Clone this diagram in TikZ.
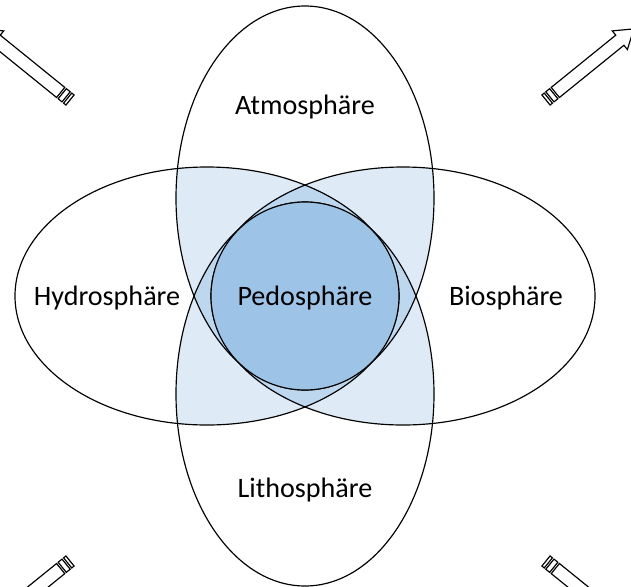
\documentclass[tikz,border=0pt]{standalone}
\usepackage{fontspec}
\setmainfont{Carlito}
\definecolor{hellblau}{HTML}{DEEBF7}
\definecolor{mittelblau}{HTML}{BDD7EE}
\definecolor{dunkelblau}{HTML}{9DC3E6}
\tikzset{
  hochoval/.style={x radius=129, y radius=192},
  queroval/.style={x radius=192, y radius=129},
  umriss/.style={draw=black, line width=1pt},
  pfeil/.style={draw=black, line width=1pt, line join=miter},
  beschriftung/.style={font=\fontsize{24pt}{28pt}\selectfont}
}

\begin{document}
\begin{tikzpicture}[x=0.3mm, y=0.3mm]
  \clip (-305,-290) rectangle (326,296);

  % Schnitt von je zwei Ellipsen
  \begin{scope}
    \clip (0,98) ellipse [hochoval];
    \fill [hellblau] (-98,0) ellipse [queroval];
    \fill [hellblau] (98,0) ellipse [queroval];
    \fill [hellblau] (0,-98) ellipse [hochoval];
  \end{scope}
  \begin{scope}
    \clip (0,-98) ellipse [hochoval];
    \fill [hellblau] (-98,0) ellipse [queroval];
    \fill [hellblau] (98,0) ellipse [queroval];
  \end{scope}
  \begin{scope}
    \clip (-98,0) ellipse [queroval];
    \fill [hellblau] (98,0) ellipse [queroval];
  \end{scope}

  % Schnitt von je drei Ellipsen
  \begin{scope}
    \clip (0,98) ellipse [hochoval];
    \clip (0,-98) ellipse [hochoval];
    \fill [mittelblau] (-98,0) ellipse [queroval];
    \fill [mittelblau] (98,0) ellipse [queroval];
  \end{scope}
  \begin{scope}
    \clip (-98,0) ellipse [queroval];
    \clip (98,0) ellipse [queroval];
    \fill [mittelblau] (0,98) ellipse [hochoval];
    \fill [mittelblau] (0,-98) ellipse [hochoval];
  \end{scope}

  \draw [umriss] (0,98) ellipse [hochoval];
  \draw [umriss] (0,-98) ellipse [hochoval];
  \draw [umriss] (-98,0) ellipse [queroval];
  \draw [umriss] (98,0) ellipse [queroval];
  \draw [umriss, fill=dunkelblau] (0,0) circle [radius=94];

  \node [beschriftung] (atmo) at (0,189) {Atmosphäre};
  \node [beschriftung] (litho) at (0,-194) {Lithosphäre};
  \node [beschriftung] (hydro) at (-198,-2) {Hydrosphäre};
  \node [beschriftung] (bio) at (201,-2) {Biosphäre};
  \node [beschriftung] (pedo) at (0,-2) {Pedosphäre};

  % Pfeile in den Ecken
  \begin{scope}[shift={(-235,196)}, rotate=141]
    \draw [pfeil] (0,-6.5) rectangle (3,6.5);
    \draw [pfeil] (5,-6.5) rectangle (10,6.5);
    \draw [pfeil] (12,-6.5) -- (95,-6.5) -- (95,-12) -- (113,0) -- (95,12) -- (95,6.5) -- (12,6.5) -- cycle;
  \end{scope}
  \begin{scope}[shift={(241,196)}, rotate=39]
    \draw [pfeil] (0,-6.5) rectangle (3,6.5);
    \draw [pfeil] (5,-6.5) rectangle (10,6.5);
    \draw [pfeil] (12,-6.5) -- (95,-6.5) -- (95,-12) -- (113,0) -- (95,12) -- (95,6.5) -- (12,6.5) -- cycle;
  \end{scope}
  \begin{scope}[shift={(-235,-265)}, rotate=-141]
    \draw [pfeil] (0,-6.5) rectangle (3,6.5);
    \draw [pfeil] (5,-6.5) rectangle (10,6.5);
    \draw [pfeil] (12,-6.5) -- (95,-6.5) -- (95,-12) -- (113,0) -- (95,12) -- (95,6.5) -- (12,6.5) -- cycle;
  \end{scope}
  \begin{scope}[shift={(241,-265)}, rotate=-39]
    \draw [pfeil] (0,-6.5) rectangle (3,6.5);
    \draw [pfeil] (5,-6.5) rectangle (10,6.5);
    \draw [pfeil] (12,-6.5) -- (95,-6.5) -- (95,-12) -- (113,0) -- (95,12) -- (95,6.5) -- (12,6.5) -- cycle;
  \end{scope}
\end{tikzpicture}
\end{document}
